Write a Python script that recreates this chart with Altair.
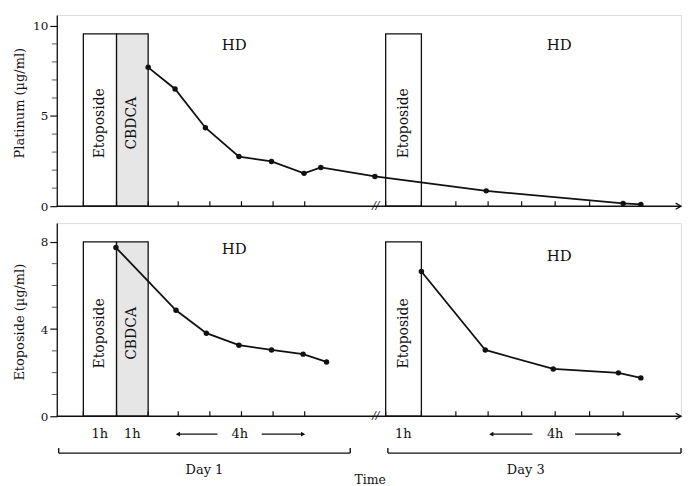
import altair as alt
import pandas as pd

FONT = "DejaVu Serif"
INK = "#111111"

# ---------------- data ----------------
# time axis in plotted hours (start of Day-1 etoposide infusion = 0)
pt_time = [2.05, 2.9, 3.86, 4.92, 5.95, 6.98, 7.51, 9.22, 12.74, 17.07, 17.63]
pt_conc = [7.7, 6.5, 4.35, 2.75, 2.48, 1.82, 2.15, 1.65, 0.85, 0.15, 0.1]

eto_time_d1 = [1.03, 2.93, 3.89, 4.92, 5.95, 6.95, 7.69]
eto_conc_d1 = [7.74, 4.86, 3.81, 3.26, 3.04, 2.85, 2.49]
eto_time_d3 = [10.69, 12.71, 14.86, 16.92, 17.63]
eto_conc_d3 = [6.64, 3.04, 2.17, 1.99, 1.76]

box_drug = ["Etoposide", "CBDCA", "Etoposide"]
box_start = [0.0, 1.05, 9.56]
box_end = [1.05, 2.05, 10.69]
box_top_pt = 9.56
box_top_eto = 8.0
box_label_pt = 4.6
box_label_eto = 3.8

tick_pos = [0, 1.05, 2.05, 3.0, 4.0, 5.0, 6.0, 7.0,
            9.56, 10.69, 11.78, 12.80, 13.86, 14.92, 16.01, 17.07]
axis_start, axis_end = -0.84, 18.9
break_pos = 9.25

hd_x = [4.77, 15.05]
hd_y_pt = [8.95, 8.95]
hd_y_eto = [7.65, 7.37]

pt_y_ticks = [0, 5, 10]
pt_minor = [1, 2, 3, 4, 6, 7, 8, 9]
eto_y_ticks = [0, 4, 8]
eto_minor = [1, 2, 3, 5, 6, 7]

dur_labels = ["1h", "1h", "4h", "1h", "4h"]
dur_x = [0.52, 1.55, 4.95, 10.12, 14.92]
larrow_from = [2.99, 12.9]
larrow_to = [4.24, 14.2]
rarrow_from = [5.64, 15.55]
rarrow_to = [6.95, 16.95]
day_labels = ["Day 1", "Day 3"]
day_from = [-0.78, 9.63]
day_to = [8.44, 18.9]
day_mid = [3.83, 13.99]
time_label_x = 9.07

W = 627
H_TOP = 192
H_BOT = 194

xscale = alt.Scale(domain=[axis_start, axis_end], nice=False, zero=False)


def X(field):
    return alt.X(field, type="quantitative", scale=xscale, axis=None)


def panel(times, concs, series, ymax, yticks, yminor, ytitle, box_top,
          box_label_y, hd_y, height, title_y):
    yscale = alt.Scale(domain=[0, ymax], nice=False, zero=True)
    yaxis = alt.Axis(values=yticks, title=ytitle, grid=False, tickSize=7,
                     tickColor=INK, domainColor=INK, domainWidth=1.3,
                     tickWidth=1.2,
                     labelPadding=2, labelFont=FONT, labelFontSize=12,
                     labelColor=INK, titleFont=FONT, titleFontSize=13,
                     titleFontWeight="normal", titleColor=INK, titleX=-37,
                     titleY=title_y, titleBaseline="middle")

    boxes = pd.DataFrame({"drug": box_drug, "s": box_start, "e": box_end})
    boxes["top"] = box_top
    boxes["mid"] = (boxes["s"] + boxes["e"]) / 2
    boxes["ly"] = box_label_y

    rects = alt.Chart(boxes).mark_rect(stroke=INK, strokeWidth=1.3).encode(
        x=X("s"), x2="e",
        y=alt.Y("top:Q", scale=yscale, axis=yaxis), y2=alt.datum(0),
        fill=alt.condition(alt.datum.drug == "CBDCA", alt.value("#e6e6e6"),
                           alt.value("white")))
    rect_text = alt.Chart(boxes).mark_text(
        angle=270, font=FONT, fontSize=14, color=INK, baseline="middle",
        align="center").encode(x=X("mid"), y=alt.Y("ly:Q", scale=yscale),
                               text="drug")

    df = pd.DataFrame({"t": times, "c": concs, "s": series})
    line = alt.Chart(df).mark_line(color=INK, strokeWidth=1.8).encode(
        x=X("t"), y=alt.Y("c:Q", scale=yscale), detail="s")
    pts = alt.Chart(df).mark_circle(color=INK, size=30, opacity=1).encode(
        x=X("t"), y=alt.Y("c:Q", scale=yscale))

    minor = alt.Chart(pd.DataFrame({"m": yminor})).mark_tick(
        orient="horizontal", size=5, thickness=1, color=INK).encode(
        y=alt.Y("m:Q", scale=yscale), x=alt.value(-2.5))

    xline = alt.Chart(pd.DataFrame({"a": [axis_start], "b": [axis_end]})
                      ).mark_rule(color=INK, strokeWidth=1.4).encode(
        x=X("a"), x2="b", y=alt.value(height))
    xticks = alt.Chart(pd.DataFrame({"k": tick_pos})).mark_rule(
        color=INK, strokeWidth=1.2).encode(
        x=X("k"), y=alt.value(height), y2=alt.value(height - 5))
    arrow = alt.Chart(pd.DataFrame({"a": [axis_end]})).mark_point(
        shape="M -1.6 -0.9 L 0 0 L -1.6 0.9", filled=False, size=45,
        color=INK, strokeWidth=1.3, opacity=1).encode(
        x=X("a"), y=alt.value(height))
    brk = alt.Chart(pd.DataFrame({"b": [break_pos]})).mark_text(
        text="//", font=FONT, fontSize=11, fontStyle="italic", color=INK,
        baseline="middle").encode(x=X("b"), y=alt.value(height))

    hd = alt.Chart(pd.DataFrame({"x": hd_x, "y": hd_y, "l": ["HD", "HD"]})
                   ).mark_text(font=FONT, fontSize=15, color=INK).encode(
        x=X("x"), y=alt.Y("y:Q", scale=yscale), text="l")

    return [rects, rect_text, line, pts, minor, xline, xticks, arrow, brk, hd]


top_layers = panel(pt_time, pt_conc, ["a"] * len(pt_time), 10.6, pt_y_ticks,
                   pt_minor, "Platinum (µg/ml)", box_top_pt, box_label_pt,
                   hd_y_pt, H_TOP, 88)

bot_layers = panel(eto_time_d1 + eto_time_d3, eto_conc_d1 + eto_conc_d3,
                   ["d1"] * len(eto_time_d1) + ["d3"] * len(eto_time_d3),
                   8.86, eto_y_ticks, eto_minor, "Etoposide (µg/ml)",
                   box_top_eto, box_label_eto, hd_y_eto, H_BOT, 99)

# ---- annotations below the bottom panel ----
Y_DUR = H_BOT + 18
Y_BR = H_BOT + 37
Y_DAY = H_BOT + 54
Y_TIME = H_BOT + 64

dur = alt.Chart(pd.DataFrame({"x": dur_x, "l": dur_labels})).mark_text(
    font=FONT, fontSize=13, color=INK, baseline="middle").encode(
    x=X("x"), y=alt.value(Y_DUR), text="l")
arr_df = pd.DataFrame({"a": larrow_from + rarrow_from,
                       "b": larrow_to + rarrow_to})
arr_lines = alt.Chart(arr_df).mark_rule(color=INK, strokeWidth=1.2).encode(
    x=X("a"), x2="b", y=alt.value(Y_DUR))
lheads = alt.Chart(pd.DataFrame({"a": larrow_from})).mark_point(
    shape="triangle-left", filled=True, size=24, color=INK, opacity=1).encode(
    x=X("a"), y=alt.value(Y_DUR))
rheads = alt.Chart(pd.DataFrame({"a": rarrow_to})).mark_point(
    shape="triangle-right", filled=True, size=24, color=INK, opacity=1).encode(
    x=X("a"), y=alt.value(Y_DUR))

br_df = pd.DataFrame({"a": day_from, "b": day_to})
br_line = alt.Chart(br_df).mark_rule(color=INK, strokeWidth=1.4).encode(
    x=X("a"), x2="b", y=alt.value(Y_BR))
br_ends = alt.Chart(pd.DataFrame({"e": day_from + day_to})).mark_rule(
    color=INK, strokeWidth=1.4).encode(
    x=X("e"), y=alt.value(Y_BR), y2=alt.value(Y_BR - 5))
days = alt.Chart(pd.DataFrame({"x": day_mid, "l": day_labels})).mark_text(
    font=FONT, fontSize=13, color=INK, baseline="middle").encode(
    x=X("x"), y=alt.value(Y_DAY), text="l")
time_t = alt.Chart(pd.DataFrame({"x": [time_label_x], "l": ["Time"]})
                   ).mark_text(font=FONT, fontSize=12.5, color=INK,
                               baseline="middle").encode(
    x=X("x"), y=alt.value(Y_TIME), text="l")

top = alt.layer(*top_layers).properties(width=W, height=H_TOP)
bottom = alt.layer(*bot_layers, dur, arr_lines, lheads, rheads, br_line,
                   br_ends, days, time_t).properties(width=W, height=H_BOT)

chart = alt.vconcat(top, bottom, spacing=9).configure_view(
    stroke=None).configure(
    padding={"left": 5, "top": 5, "right": 0, "bottom": 0},
    background="white")

chart.save("out.html", embed_options={"renderer": "svg", "actions": False})
